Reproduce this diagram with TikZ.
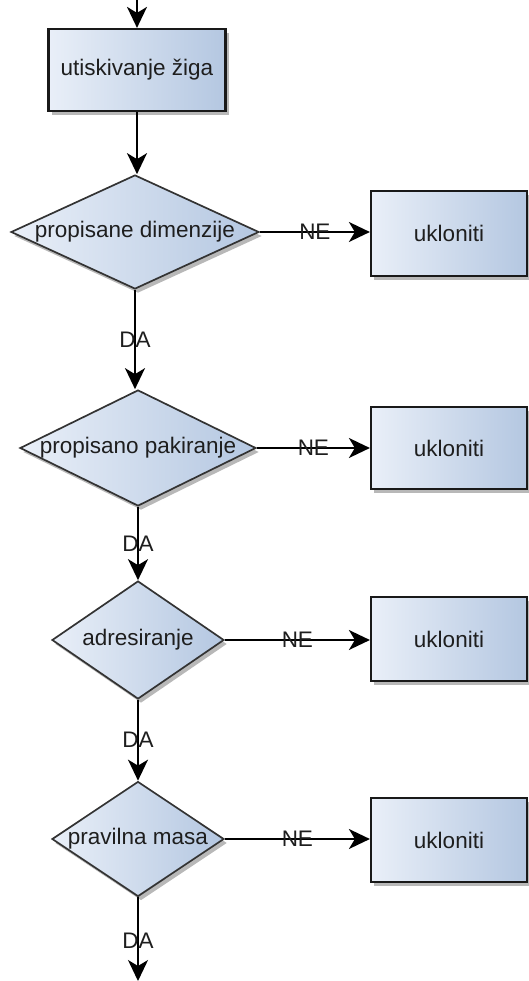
\documentclass[tikz,border=0pt]{standalone}
\usepackage{fontspec}
\setmainfont{Liberation Sans}
\usetikzlibrary{shapes.geometric,arrows.meta,shadows}
\definecolor{fillL}{HTML}{E9EFF8}
\definecolor{fillR}{HTML}{B4C7E1}
\definecolor{txt}{HTML}{1E1E1E}
\begin{document}
\begin{tikzpicture}[x=1pt,y=-1pt,
  font=\fontsize{22.5}{26}\selectfont,
  shade/.style={left color=fillL, right color=fillR,
    drop shadow={shadow xshift=3pt, shadow yshift=-4pt, opacity=0.28, fill=black}},
  procbox/.style={shape=rectangle, draw=black!90, line width=2.2pt, shade, inner sep=0pt},
  decide/.style={shape=diamond, draw=black!80, line width=1.7pt, shade, inner sep=0pt},
  lbl/.style={text=txt, inner sep=0pt},
  arr/.style={draw=black, line width=1.9pt, -{Stealth[length=21pt,width=20pt,inset=6pt]}},
  elbl/.style={text=txt, inner sep=0pt, pos=0.5}]
\path[use as bounding box] (0,0) rectangle (529,981);
\clip (0,0) rectangle (529,981);

% main column
\node[procbox, minimum width=177pt, minimum height=82pt] (tb) at (137,70) {};
\node[lbl] (tbt) at (tb) {utiskivanje žiga};

\node[decide, minimum width=248pt, minimum height=114pt] (d1) at (135,232) {};
\node[lbl] (d1t) at (d1) {propisane dimenzije};

\node[decide, minimum width=236pt, minimum height=116pt] (d2) at (138,448) {};
\node[lbl] (d2t) at (d2) {propisano pakiranje};

\node[decide, minimum width=172pt, minimum height=118pt] (d3) at (138,640) {};
\node[lbl] (d3t) at (d3) {adresiranje};

\node[decide, minimum width=172pt, minimum height=115pt] (d4) at (138,839) {};
\node[lbl] (d4t) at (d4) {pravilna masa};

% reject boxes
\node[procbox, minimum width=156pt, minimum height=85pt] (r1) at (449,233.5) {};
\node[lbl] (r1t) at (r1) {ukloniti};
\node[procbox, minimum width=156pt, minimum height=82pt] (r2) at (449,448) {};
\node[lbl] (r2t) at (r2) {ukloniti};
\node[procbox, minimum width=156pt, minimum height=84pt] (r3) at (449,639) {};
\node[lbl] (r3t) at (r3) {ukloniti};
\node[procbox, minimum width=156pt, minimum height=84pt] (r4) at (449,840) {};
\node[lbl] (r4t) at (r4) {ukloniti};

\coordinate (topin) at (137,-30);
\coordinate (botout) at (138,981);

% connectors
\draw[arr] (topin) -- (tb.north);
\draw[arr] (tb.south) -- (tb.south |- d1.north);
\draw[arr] (d1.south) -- node[elbl]{DA} (d1.south |- d2.north);
\draw[arr] (d2.south) -- node[elbl]{DA} (d3.north);
\draw[arr] (d3.south) -- node[elbl]{DA} (d4.north);
\draw[arr] (d4.south) -- node[elbl, pos=0.52]{DA} (botout);

\draw[arr] (d1.east) -- node[elbl]{NE} (d1.east -| r1.west);
\draw[arr] (d2.east) -- node[elbl]{NE} (d2.east -| r2.west);
\draw[arr] (d3.east) -- node[elbl]{NE} (d3.east -| r3.west);
\draw[arr] (d4.east) -- node[elbl]{NE} (d4.east -| r4.west);
\end{tikzpicture}
\end{document}
